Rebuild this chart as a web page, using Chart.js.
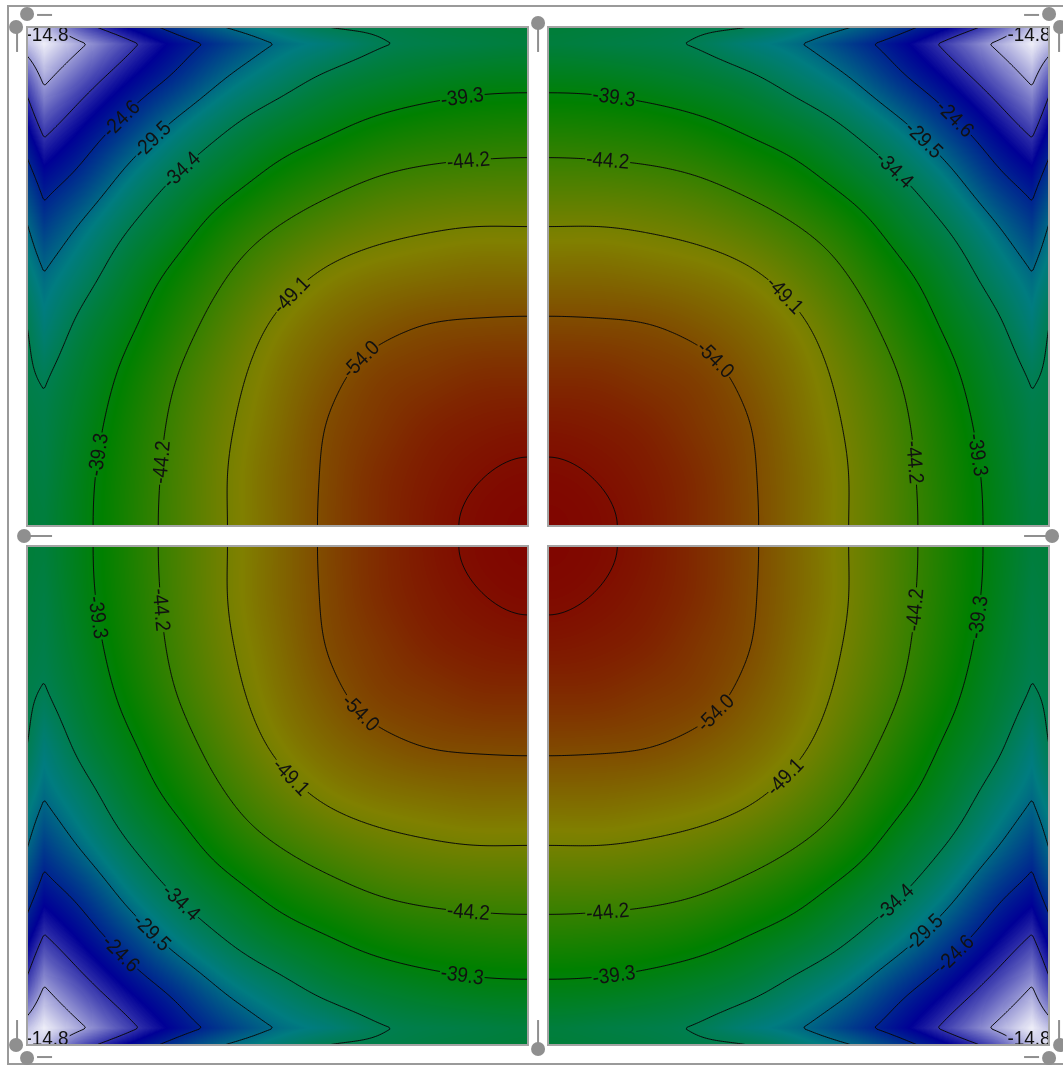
<!DOCTYPE html>
<html>
<head>
<meta charset="utf-8">
<script src="https://cdn.jsdelivr.net/npm/chart.js@4.4.1/dist/chart.umd.min.js"></script>
<style>
  html, body { margin: 0; padding: 0; background: #fff; overflow: hidden; }
  #wrap { position: relative; width: 1063px; height: 1066px; }
</style>
</head>
<body>
<div id="wrap"><canvas id="plate" width="1063" height="1066"></canvas></div>
<script>
// Slab of four 5.0 m panels with a 0.2 m joint; every panel shows the same (mirrored) field
const panelSize = 5.0;
const jointWidth = 0.2;
const plateSize = 2 * panelSize + jointWidth;

// node positions, measured from the outer edge of a panel (m)
const nodePos = [0, 0.17, 0.5, 1.0, 1.5, 2.0, 2.5, 3.0, 3.5, 4.0, 4.5, 5.0];

// nodal values, one row per node position across the panel
const rowEdge  = [-11.0, -13.0, -17.7, -22.2, -26.1, -29.7, -32.1, -34.4, -34.9, -35.4, -35.8, -36.0];
const rowStrip = [-13.0, -10.8, -13.9, -18.7, -22.8, -26.4, -29.7, -31.7, -34.0, -34.9, -35.3, -35.7];
const row050 = [-17.7, -13.9, -17.2, -21.5, -25.3, -29.5, -32.5, -34.9, -36.4, -37.3, -37.9, -38.1];
const row100 = [-22.2, -18.7, -21.5, -25.9, -30.5, -34.1, -36.7, -38.6, -40.2, -41.2, -41.7, -41.9];
const row150 = [-26.1, -22.8, -25.3, -30.5, -34.6, -37.6, -40.4, -42.5, -44.2, -45.1, -45.5, -45.6];
const row200 = [-29.7, -26.4, -29.5, -34.1, -37.6, -41.3, -44.2, -46.4, -47.9, -48.7, -49.1, -49.1];
const row250 = [-32.1, -29.7, -32.5, -36.7, -40.4, -44.2, -47.4, -49.7, -50.9, -51.5, -51.9, -51.9];
const row300 = [-34.4, -31.7, -34.9, -38.6, -42.5, -46.4, -49.7, -51.8, -53.2, -54.1, -54.4, -54.5];
const row350 = [-34.9, -34.0, -36.4, -40.2, -44.2, -47.9, -50.9, -53.2, -55.0, -55.8, -56.5, -56.6];
const row400 = [-35.4, -34.9, -37.3, -41.2, -45.1, -48.7, -51.5, -54.1, -55.8, -57.2, -57.9, -58.2];
const row450 = [-35.8, -35.3, -37.9, -41.7, -45.5, -49.1, -51.9, -54.4, -56.5, -57.9, -58.8, -59.2];
const row500 = [-36.0, -35.7, -38.1, -41.9, -45.6, -49.1, -51.9, -54.5, -56.6, -58.2, -59.2, -59.5];
const nodeRows = [rowEdge, rowStrip, row050, row100, row150, row200, row250, row300, row350, row400, row450, row500];

const contourLevels = [-14.8, -19.7, -24.6, -29.5, -34.4, -39.3, -44.2, -49.1, -54.0, -58.9];

// contour labels, position inside a panel (distance from the outer edges, m)
const labelText = ['-14.8', '-24.6', '-29.5', '-34.4', '-39.3', '-44.2', '-39.3', '-44.2', '-49.1', '-54.0'];
const labelA    = [0.20, 0.90, 1.20, 1.51, 4.34, 4.40, 0.67, 1.33, 2.64, 3.30];
const labelB    = [0.07, 0.88, 1.08, 1.40, 0.68, 1.28, 4.28, 4.36, 2.69, 3.30];

// colour scale
const colorValues = [-10, -22, -31, -40, -50, -60];
const colorStops = [[255, 255, 255], [0, 0, 150], [0, 124, 128], [0, 128, 0], [128, 128, 0], [128, 0, 0]];

// supports: corners and mid-edges of the slab
const supportX = [0, 5.1, plateSize, 0, plateSize, 0, 5.1, plateSize];
const supportY = [0, 0, 0, 5.1, 5.1, plateSize, plateSize, plateSize];

// ---- interpolation: linear in the edge strip, cubic spline inside (flat at the joint) ----
function makeSpline(ys) {
  const X = nodePos.slice(1), Y = ys.slice(1), m = X.length;
  const h = [], al = [], l = [1], mu = [0], z = [0];
  for (let i = 0; i < m - 1; i++) h[i] = X[i + 1] - X[i];
  for (let i = 1; i < m - 1; i++) {
    al[i] = 3 / h[i] * (Y[i + 1] - Y[i]) - 3 / h[i - 1] * (Y[i] - Y[i - 1]);
    l[i] = 2 * (X[i + 1] - X[i - 1]) - h[i - 1] * mu[i - 1];
    mu[i] = h[i] / l[i];
    z[i] = (al[i] - h[i - 1] * z[i - 1]) / l[i];
  }
  const c = new Array(m).fill(0), b = [], d = [];
  const alEnd = -3 * (Y[m - 1] - Y[m - 2]) / h[m - 2];
  const lEnd = h[m - 2] * (2 - mu[m - 2]);
  c[m - 1] = (alEnd - h[m - 2] * z[m - 2]) / lEnd;
  for (let j = m - 2; j >= 0; j--) {
    c[j] = z[j] - mu[j] * c[j + 1];
    b[j] = (Y[j + 1] - Y[j]) / h[j] - h[j] * (c[j + 1] + 2 * c[j]) / 3;
    d[j] = (c[j + 1] - c[j]) / (3 * h[j]);
  }
  return t => {
    t = Math.max(0, Math.min(panelSize, t));
    if (t <= nodePos[1]) return ys[0] + (ys[1] - ys[0]) * (t / nodePos[1]);
    let j = 0;
    while (j < m - 2 && t > X[j + 1]) j++;
    const dx = t - X[j];
    return Y[j] + b[j] * dx + c[j] * dx * dx + d[j] * dx * dx * dx;
  };
}

const STEP = 0.01;
const NS = Math.round(panelSize / STEP) + 1;
const field = new Float32Array(NS * NS);
(function buildField() {
  const atA = nodeRows.map(r => {
    const s = makeSpline(r), arr = new Float64Array(NS);
    for (let ia = 0; ia < NS; ia++) arr[ia] = s(ia * STEP);
    return arr;
  });
  for (let ia = 0; ia < NS; ia++) {
    const s = makeSpline(atA.map(arr => arr[ia]));
    for (let ib = 0; ib < NS; ib++) field[ib * NS + ia] = s(ib * STEP);
  }
})();

function fieldAt(a, b) {
  a = Math.max(0, Math.min(panelSize, a)) / STEP;
  b = Math.max(0, Math.min(panelSize, b)) / STEP;
  const ia = Math.min(NS - 2, Math.floor(a)), ib = Math.min(NS - 2, Math.floor(b));
  const u = a - ia, w = b - ib;
  const f00 = field[ib * NS + ia], f10 = field[ib * NS + ia + 1];
  const f01 = field[(ib + 1) * NS + ia], f11 = field[(ib + 1) * NS + ia + 1];
  return (f00 * (1 - u) + f10 * u) * (1 - w) + (f01 * (1 - u) + f11 * u) * w;
}

function colorAt(v) {
  if (v >= colorValues[0]) return colorStops[0];
  for (let i = 0; i < colorValues.length - 1; i++) {
    if (v >= colorValues[i + 1]) {
      const t = (colorValues[i] - v) / (colorValues[i] - colorValues[i + 1]);
      const c0 = colorStops[i], c1 = colorStops[i + 1];
      return [0, 1, 2].map(k => Math.round(c0[k] + (c1[k] - c0[k]) * t));
    }
  }
  return colorStops[colorStops.length - 1];
}
const lut = [];
for (let k = 0; k <= 600; k++) lut.push(colorAt(-65 + k * 0.1));

// marching squares on the sampled field (panel coordinates)
function contourSegments(level) {
  const C = 2, n = Math.floor((NS - 1) / C), segs = [];
  const val = (i, j) => field[(j * C) * NS + i * C];
  const d = C * STEP;
  for (let j = 0; j < n; j++) {
    for (let i = 0; i < n; i++) {
      const v = [val(i, j), val(i + 1, j), val(i + 1, j + 1), val(i, j + 1)];
      const c = [[i * d, j * d], [(i + 1) * d, j * d], [(i + 1) * d, (j + 1) * d], [i * d, (j + 1) * d]];
      const above = v.map(x => x > level);
      const pts = [];
      for (let e = 0; e < 4; e++) {
        const e2 = (e + 1) % 4;
        if (above[e] !== above[e2]) {
          const t = (level - v[e]) / (v[e2] - v[e]);
          pts[e] = [c[e][0] + (c[e2][0] - c[e][0]) * t, c[e][1] + (c[e2][1] - c[e][1]) * t];
        }
      }
      const found = pts.map((p, k) => p ? k : -1).filter(k => k >= 0);
      if (found.length === 2) segs.push([pts[found[0]], pts[found[1]]]);
      else if (found.length === 4) {
        const mid = (v[0] + v[1] + v[2] + v[3]) / 4 > level;
        if (mid === above[0]) { segs.push([pts[0], pts[1]]); segs.push([pts[2], pts[3]]); }
        else { segs.push([pts[3], pts[0]]); segs.push([pts[1], pts[2]]); }
      }
    }
  }
  return segs;
}
const contours = contourLevels.map(contourSegments);

function snapToLevel(a, b, level) {
  for (let k = 0; k < 10; k++) {
    const e = 0.01;
    const ga = (fieldAt(a + e, b) - fieldAt(a - e, b)) / (2 * e);
    const gb = (fieldAt(a, b + e) - fieldAt(a, b - e)) / (2 * e);
    const g2 = ga * ga + gb * gb;
    if (g2 < 1e-9) break;
    const d = fieldAt(a, b) - level;
    a -= d * ga / g2; b -= d * gb / g2;
  }
  return [a, b];
}

// the four panels: plate x = x0 + sx * a, plate y = y0 + sy * b
const panels = [
  { x0: 0, sx: 1, y0: 0, sy: 1 },
  { x0: plateSize, sx: -1, y0: 0, sy: 1 },
  { x0: 0, sx: 1, y0: plateSize, sy: -1 },
  { x0: plateSize, sx: -1, y0: plateSize, sy: -1 }
];

const slabPlugin = {
  id: 'slab',
  beforeDatasetsDraw(chart) {
    const ctx = chart.ctx, xs = chart.scales.x, ys = chart.scales.y;
    const W = chart.width, H = chart.height;
    const toPx = (p, a, b) => [xs.getPixelForValue(p.x0 + p.sx * a), ys.getPixelForValue(p.y0 + p.sy * b)];
    const rects = panels.map(p => {
      const [xa, ya] = toPx(p, 0, 0), [xb, yb] = toPx(p, panelSize, panelSize);
      return { l: Math.round(Math.min(xa, xb)), r: Math.round(Math.max(xa, xb)),
               t: Math.round(Math.min(ya, yb)), b: Math.round(Math.max(ya, yb)) };
    });

    // shaded field
    const off = document.createElement('canvas');
    off.width = W; off.height = H;
    const octx = off.getContext('2d');
    const img = octx.createImageData(W, H);
    panels.forEach((p, pi) => {
      const R = rects[pi];
      const aCol = [];
      for (let x = R.l; x < R.r; x++) aCol.push((xs.getValueForPixel(x + 0.5) - p.x0) * p.sx);
      for (let y = R.t; y < R.b; y++) {
        const bv = (ys.getValueForPixel(y + 0.5) - p.y0) * p.sy;
        for (let x = R.l; x < R.r; x++) {
          const v = fieldAt(aCol[x - R.l], bv);
          const k = Math.max(0, Math.min(600, Math.round((v + 65) * 10)));
          const c = lut[k], o = (y * W + x) * 4;
          img.data[o] = c[0]; img.data[o + 1] = c[1]; img.data[o + 2] = c[2]; img.data[o + 3] = 255;
        }
      }
    });
    octx.putImageData(img, 0, 0);
    ctx.drawImage(off, 0, 0);

    // label placement (the corner label keeps its place, the others sit on their line)
    ctx.font = '21px "Liberation Sans", Arial, sans-serif';
    const sxText = 0.9, hBox = 15;
    const labels = [];
    panels.forEach((p, pi) => {
      labelText.forEach((txt, li) => {
        const level = parseFloat(txt);
        const [a, b] = li === 0 ? [labelA[li], labelB[li]] : snapToLevel(labelA[li], labelB[li], level);
        const e = 0.01;
        const ga = (fieldAt(a + e, b) - fieldAt(a - e, b)) / (2 * e);
        const gb = (fieldAt(a, b + e) - fieldAt(a, b - e)) / (2 * e);
        const gl = Math.hypot(ga, gb) || 1;
        const [x0, y0] = toPx(p, a, b);
        const [x1, y1] = toPx(p, a - gb / gl * 0.05, b + ga / gl * 0.05);
        let ang = li === 0 ? 0 : Math.atan2(y1 - y0, x1 - x0);
        if (ang >= Math.PI / 2 - 1e-6) ang -= Math.PI;
        if (ang < -Math.PI / 2 - 1e-6) ang += Math.PI;
        const w = ctx.measureText(txt).width * sxText + 2;
        labels.push({ txt, x: x0, y: y0, ang, w, pi });
      });
    });

    // contour lines, broken where labels sit
    ctx.save();
    ctx.beginPath();
    ctx.rect(0, 0, W, H);
    labels.forEach(L => {
      const c = Math.cos(L.ang), s = Math.sin(L.ang), hw = L.w / 2, hh = hBox / 2;
      const pts = [[-hw, -hh], [hw, -hh], [hw, hh], [-hw, hh]].map(([u, v]) => [L.x + u * c - v * s, L.y + u * s + v * c]);
      ctx.moveTo(pts[0][0], pts[0][1]);
      for (let k = 1; k < 4; k++) ctx.lineTo(pts[k][0], pts[k][1]);
      ctx.closePath();
    });
    ctx.clip('evenodd');
    ctx.strokeStyle = '#0a0a0a';
    ctx.lineWidth = 1;
    panels.forEach(p => {
      ctx.beginPath();
      contours.forEach(segs => {
        segs.forEach(([s0, s1]) => {
          const [xa, ya] = toPx(p, s0[0], s0[1]), [xb, yb] = toPx(p, s1[0], s1[1]);
          ctx.moveTo(xa, ya); ctx.lineTo(xb, yb);
        });
      });
      ctx.stroke();
    });
    ctx.restore();

    // label text, clipped to its panel
    labels.forEach(L => {
      const R = rects[L.pi];
      ctx.save();
      ctx.beginPath(); ctx.rect(R.l, R.t, R.r - R.l, R.b - R.t); ctx.clip();
      ctx.translate(L.x, L.y); ctx.rotate(L.ang); ctx.scale(sxText, 1);
      ctx.fillStyle = '#111';
      ctx.textAlign = 'center'; ctx.textBaseline = 'middle';
      ctx.fillText(L.txt, 0, 1);
      ctx.restore();
    });

    // panel borders and outer frame
    ctx.save();
    ctx.strokeStyle = '#a4a4a4';
    ctx.lineWidth = 2;
    rects.forEach(R => ctx.strokeRect(R.l, R.t, R.r - R.l, R.b - R.t));
    const L0 = Math.min(...rects.map(r => r.l)), T0 = Math.min(...rects.map(r => r.t));
    const B0 = Math.max(...rects.map(r => r.b)), R0 = Math.max(...rects.map(r => r.r));
    ctx.strokeStyle = '#9a9a9a';
    ctx.strokeRect(L0 - 19, T0 - 21, R0 - L0 + 40, B0 - T0 + 40);
    ctx.restore();
  }
};

const supportPlugin = {
  id: 'supports',
  afterDraw(chart) {
    const ctx = chart.ctx, xs = chart.scales.x, ys = chart.scales.y;
    ctx.save();
    ctx.fillStyle = '#8f8f8f';
    ctx.strokeStyle = '#8f8f8f';
    ctx.lineWidth = 2;
    const dot = (x, y) => { ctx.beginPath(); ctx.arc(x, y, 7, 0, Math.PI * 2); ctx.fill(); };
    const pin = (x1, y1, x2, y2) => { ctx.beginPath(); ctx.moveTo(x1, y1); ctx.lineTo(x2, y2); ctx.stroke(); };
    supportX.forEach((sxv, i) => {
      const syv = supportY[i];
      const cx = xs.getPixelForValue(sxv), cy = ys.getPixelForValue(syv);
      const ox = sxv <= 0 ? -1 : (sxv >= plateSize ? 1 : 0);
      const oy = syv <= 0 ? -1 : (syv >= plateSize ? 1 : 0);
      if (ox && oy) {
        pin(cx - ox * 10, cy + oy * 12, cx - ox * 25, cy + oy * 12);
        dot(cx, cy + oy * 13);
        pin(cx + ox * 10, cy - oy * 3, cx + ox * 10, cy - oy * 25);
        dot(cx + ox * 11, cy);
      } else {
        pin(cx, cy, cx - ox * 25, cy - oy * 25);
        dot(cx + ox * 3, cy + oy * 4);
      }
    });
    ctx.restore();
  }
};

new Chart(document.getElementById('plate'), {
  type: 'scatter',
  data: { datasets: [] },
  options: {
    responsive: false,
    animation: false,
    events: [],
    layout: { padding: 0 },
    plugins: { legend: { display: false }, tooltip: { enabled: false } },
    scales: {
      x: { type: 'linear', display: false, min: -0.27, max: 10.339 },
      y: { type: 'linear', display: false, reverse: true, min: -0.27, max: 10.41 }
    }
  },
  plugins: [slabPlugin, supportPlugin]
});
</script>
</body>
</html>
